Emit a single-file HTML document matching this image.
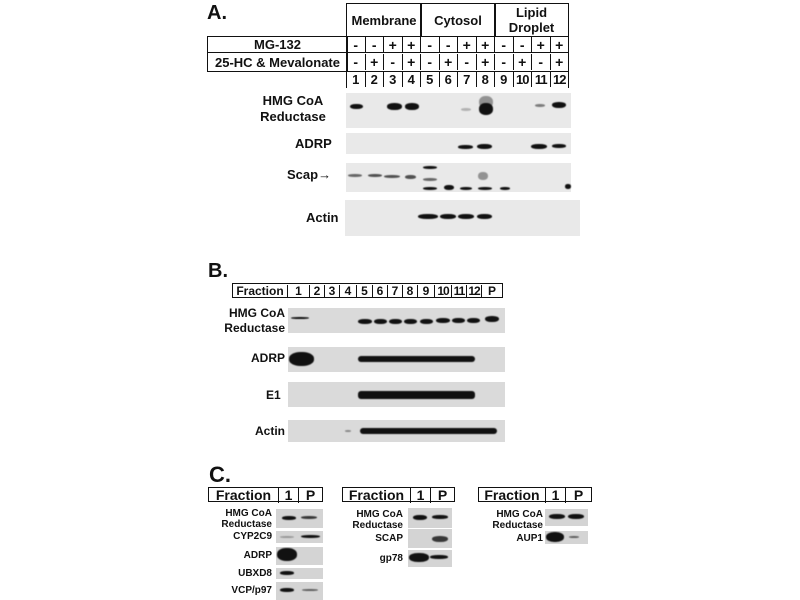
<!DOCTYPE html>
<html><head><style>
body{margin:0;width:800px;height:600px;background:#fff;position:relative;overflow:hidden;font-family:"Liberation Sans",Arial,sans-serif;font-weight:bold;color:#111}
div{position:absolute;box-sizing:border-box}
span{box-sizing:border-box}
.t{white-space:nowrap}
.c{border:1.5px solid #111;display:flex;align-items:center;justify-content:center;font-size:13px}
.s{background:#e9e9e9}
.sb{background:#dadada}
.sc{background:#d4d4d4}
.b{background:#111;border-radius:45%;filter:blur(0.6px)}
.l{text-align:right;font-size:12px;line-height:14px}
</style></head><body>
<!-- Panel A -->
<div class="t" style="left:207px;top:2px;font-size:20px">A.</div>
<div class="c" style="left:346px;top:3px;width:76px;height:34px">Membrane</div>
<div class="c" style="left:420px;top:3px;width:76px;height:34px">Cytosol</div>
<div class="c" style="left:494px;top:3px;width:75px;height:34px;line-height:15px;text-align:center">Lipid<br>Droplet</div>
<div class="c" style="left:207px;top:36px;width:141px;height:17px">MG-132</div>
<div class="c" style="left:207px;top:52px;width:141px;height:20px">25-HC &amp; Mevalonate</div>
<div style="left:346px;top:36px;width:223px;height:17px;border:1.5px solid #111;display:flex;font-size:14px">
<span style="flex:1;text-align:center;border-right:1.5px solid #111">-</span><span style="flex:1;text-align:center;border-right:1.5px solid #111">-</span><span style="flex:1;text-align:center;border-right:1.5px solid #111">+</span><span style="flex:1;text-align:center;border-right:1.5px solid #111">+</span><span style="flex:1;text-align:center;border-right:1.5px solid #111">-</span><span style="flex:1;text-align:center;border-right:1.5px solid #111">-</span><span style="flex:1;text-align:center;border-right:1.5px solid #111">+</span><span style="flex:1;text-align:center;border-right:1.5px solid #111">+</span><span style="flex:1;text-align:center;border-right:1.5px solid #111">-</span><span style="flex:1;text-align:center;border-right:1.5px solid #111">-</span><span style="flex:1;text-align:center;border-right:1.5px solid #111">+</span><span style="flex:1;text-align:center">+</span></div>
<div style="left:346px;top:52px;width:223px;height:20px;border:1.5px solid #111;display:flex;font-size:14px;align-items:center">
<span style="flex:1;text-align:center;border-right:1.5px solid #111">-</span><span style="flex:1;text-align:center;border-right:1.5px solid #111">+</span><span style="flex:1;text-align:center;border-right:1.5px solid #111">-</span><span style="flex:1;text-align:center;border-right:1.5px solid #111">+</span><span style="flex:1;text-align:center;border-right:1.5px solid #111">-</span><span style="flex:1;text-align:center;border-right:1.5px solid #111">+</span><span style="flex:1;text-align:center;border-right:1.5px solid #111">-</span><span style="flex:1;text-align:center;border-right:1.5px solid #111">+</span><span style="flex:1;text-align:center;border-right:1.5px solid #111">-</span><span style="flex:1;text-align:center;border-right:1.5px solid #111">+</span><span style="flex:1;text-align:center;border-right:1.5px solid #111">-</span><span style="flex:1;text-align:center">+</span></div>
<div style="left:346px;top:71px;width:223px;height:17px;border-left:1.5px solid #111;border-right:1.5px solid #111;display:flex;font-size:13px;align-items:center">
<span style="flex:1;text-align:center;border-right:1.5px solid #111">1</span><span style="flex:1;text-align:center;border-right:1.5px solid #111">2</span><span style="flex:1;text-align:center;border-right:1.5px solid #111">3</span><span style="flex:1;text-align:center;border-right:1.5px solid #111">4</span><span style="flex:1;text-align:center;border-right:1.5px solid #111">5</span><span style="flex:1;text-align:center;border-right:1.5px solid #111">6</span><span style="flex:1;text-align:center;border-right:1.5px solid #111">7</span><span style="flex:1;text-align:center;border-right:1.5px solid #111">8</span><span style="flex:1;text-align:center;border-right:1.5px solid #111">9</span><span style="flex:1;text-align:center;border-right:1.5px solid #111;letter-spacing:-1px">10</span><span style="flex:1;text-align:center;border-right:1.5px solid #111;letter-spacing:-1px">11</span><span style="flex:1;text-align:center;letter-spacing:-1px">12</span></div>

<div class="l t" style="left:250px;top:93px;width:86px;font-size:13px;line-height:16px;text-align:center">HMG CoA<br>Reductase</div>
<div class="s" style="left:346px;top:93px;width:225px;height:35px"></div>
<div class="b" style="left:350px;top:104px;width:13px;height:5px"></div>
<div class="b" style="left:387px;top:103px;width:15px;height:7px"></div>
<div class="b" style="left:405px;top:103px;width:14px;height:7px"></div>
<div class="b" style="left:461px;top:108px;width:10px;height:3px;opacity:.25"></div>
<div class="b" style="left:479px;top:96px;width:14px;height:12px;opacity:.4"></div>
<div class="b" style="left:479px;top:103px;width:14px;height:12px"></div>
<div class="b" style="left:535px;top:104px;width:10px;height:3px;opacity:.5"></div>
<div class="b" style="left:552px;top:102px;width:14px;height:6px"></div>

<div class="t" style="left:295px;top:136px;font-size:13px">ADRP</div>
<div class="s" style="left:346px;top:133px;width:225px;height:21px"></div>
<div class="b" style="left:458px;top:145px;width:15px;height:4px"></div>
<div class="b" style="left:477px;top:144px;width:15px;height:5px"></div>
<div class="b" style="left:531px;top:144px;width:16px;height:5px"></div>
<div class="b" style="left:552px;top:144px;width:14px;height:4px"></div>

<div class="t" style="left:287px;top:167px;font-size:13px">Scap→</div>
<div class="s" style="left:346px;top:163px;width:225px;height:29px"></div>
<div class="b" style="left:348px;top:174px;width:14px;height:3px;opacity:.6"></div>
<div class="b" style="left:368px;top:174px;width:14px;height:3px;opacity:.7"></div>
<div class="b" style="left:384px;top:175px;width:16px;height:3px;opacity:.7"></div>
<div class="b" style="left:405px;top:175px;width:11px;height:4px;opacity:.7"></div>
<div class="b" style="left:423px;top:166px;width:14px;height:3px"></div>
<div class="b" style="left:423px;top:178px;width:14px;height:3px;opacity:.6"></div>
<div class="b" style="left:423px;top:187px;width:14px;height:3px"></div>
<div class="b" style="left:444px;top:185px;width:10px;height:5px"></div>
<div class="b" style="left:460px;top:187px;width:12px;height:3px"></div>
<div class="b" style="left:478px;top:187px;width:14px;height:3px"></div>
<div class="b" style="left:478px;top:172px;width:10px;height:8px;opacity:.4"></div>
<div class="b" style="left:500px;top:187px;width:10px;height:3px"></div>
<div class="b" style="left:565px;top:184px;width:6px;height:5px"></div>

<div class="t" style="left:306px;top:210px;font-size:13px">Actin</div>
<div class="s" style="left:345px;top:200px;width:235px;height:36px"></div>
<div class="b" style="left:418px;top:214px;width:20px;height:5px"></div>
<div class="b" style="left:440px;top:214px;width:16px;height:5px"></div>
<div class="b" style="left:458px;top:214px;width:16px;height:5px"></div>
<div class="b" style="left:477px;top:214px;width:15px;height:5px"></div>

<!-- Panel B -->
<div class="t" style="left:208px;top:260px;font-size:20px">B.</div>
<div style="left:232px;top:283px;width:271px;height:15px;border:1.5px solid #111;display:flex;font-size:12px;align-items:center;line-height:12px">
<span style="width:55px;text-align:center;border-right:1.5px solid #111">Fraction</span><span style="width:22px;text-align:center;border-right:1.5px solid #111">1</span><span style="width:15px;text-align:center;border-right:1.5px solid #111">2</span><span style="width:15px;text-align:center;border-right:1.5px solid #111">3</span><span style="width:17px;text-align:center;border-right:1.5px solid #111">4</span><span style="width:16px;text-align:center;border-right:1.5px solid #111">5</span><span style="width:15px;text-align:center;border-right:1.5px solid #111">6</span><span style="width:15px;text-align:center;border-right:1.5px solid #111">7</span><span style="width:15px;text-align:center;border-right:1.5px solid #111">8</span><span style="width:17px;text-align:center;border-right:1.5px solid #111">9</span><span style="width:17px;text-align:center;border-right:1.5px solid #111;letter-spacing:-1px">10</span><span style="width:15px;text-align:center;border-right:1.5px solid #111;letter-spacing:-1px">11</span><span style="width:15px;text-align:center;border-right:1.5px solid #111;letter-spacing:-1px">12</span><span style="flex:1;text-align:center">P</span></div>
<div class="l t" style="left:215px;top:306px;width:70px;font-size:12px;line-height:15px">HMG CoA<br>Reductase</div>
<div class="sb" style="left:288px;top:308px;width:217px;height:25px"></div>
<div class="b" style="left:291px;top:317px;width:18px;height:2px"></div>
<div class="b" style="left:358px;top:319px;width:14px;height:5px"></div><div class="b" style="left:374px;top:319px;width:13px;height:5px"></div><div class="b" style="left:389px;top:319px;width:13px;height:5px"></div><div class="b" style="left:404px;top:319px;width:13px;height:5px"></div><div class="b" style="left:420px;top:319px;width:13px;height:5px"></div><div class="b" style="left:436px;top:318px;width:14px;height:5px"></div><div class="b" style="left:452px;top:318px;width:13px;height:5px"></div><div class="b" style="left:467px;top:318px;width:13px;height:5px"></div><div class="b" style="left:485px;top:316px;width:14px;height:6px"></div>
<div class="t" style="left:251px;top:351px;font-size:12px">ADRP</div>
<div class="sb" style="left:288px;top:347px;width:217px;height:25px"></div>
<div class="b" style="left:289px;top:352px;width:25px;height:14px"></div>
<div class="b" style="left:358px;top:356px;width:117px;height:6px;border-radius:3px"></div>
<div class="t" style="left:266px;top:388px;font-size:12px">E1</div>
<div class="sb" style="left:288px;top:382px;width:217px;height:25px"></div>
<div class="b" style="left:358px;top:391px;width:117px;height:8px;border-radius:3px"></div>
<div class="t" style="left:255px;top:424px;font-size:12px">Actin</div>
<div class="sb" style="left:288px;top:420px;width:217px;height:22px"></div>
<div class="b" style="left:360px;top:428px;width:137px;height:6px;border-radius:3px"></div>
<div class="b" style="left:345px;top:430px;width:6px;height:2px;opacity:.4"></div>

<!-- Panel C -->
<div class="t" style="left:209px;top:462px;font-size:22px">C.</div>
<div style="left:208px;top:487px;width:115px;height:15px;border:1.5px solid #111;display:flex;font-size:14px;align-items:center"><span style="width:70px;text-align:center;border-right:1.5px solid #111">Fraction</span><span style="width:20px;text-align:center;border-right:1.5px solid #111">1</span><span style="flex:1;text-align:center">P</span></div>
<div style="left:342px;top:487px;width:113px;height:15px;border:1.5px solid #111;display:flex;font-size:14px;align-items:center"><span style="width:68px;text-align:center;border-right:1.5px solid #111">Fraction</span><span style="width:20px;text-align:center;border-right:1.5px solid #111">1</span><span style="flex:1;text-align:center">P</span></div>
<div style="left:478px;top:487px;width:114px;height:15px;border:1.5px solid #111;display:flex;font-size:14px;align-items:center"><span style="width:67px;text-align:center;border-right:1.5px solid #111">Fraction</span><span style="width:20px;text-align:center;border-right:1.5px solid #111">1</span><span style="flex:1;text-align:center">P</span></div>

<div class="l t" style="left:200px;top:508px;width:72px;font-size:10px;line-height:11px">HMG CoA<br>Reductase</div>
<div class="sc" style="left:276px;top:509px;width:47px;height:19px"></div>
<div class="b" style="left:282px;top:516px;width:14px;height:4px"></div><div class="b" style="left:301px;top:516px;width:16px;height:3px;opacity:.8"></div>
<div class="l t" style="left:200px;top:530px;width:72px;font-size:10px">CYP2C9</div>
<div class="sc" style="left:276px;top:531px;width:47px;height:12px"></div>
<div class="b" style="left:280px;top:536px;width:14px;height:2px;opacity:.3"></div><div class="b" style="left:301px;top:535px;width:19px;height:3px"></div>
<div class="l t" style="left:200px;top:549px;width:72px;font-size:10px">ADRP</div>
<div class="sc" style="left:276px;top:547px;width:47px;height:18px"></div>
<div class="b" style="left:277px;top:548px;width:20px;height:13px"></div>
<div class="l t" style="left:200px;top:567px;width:72px;font-size:10px">UBXD8</div>
<div class="sc" style="left:276px;top:568px;width:47px;height:11px"></div>
<div class="b" style="left:280px;top:571px;width:14px;height:4px"></div>
<div class="l t" style="left:200px;top:584px;width:72px;font-size:10px">VCP/p97</div>
<div class="sc" style="left:276px;top:582px;width:47px;height:18px"></div>
<div class="b" style="left:280px;top:588px;width:14px;height:4px"></div><div class="b" style="left:302px;top:589px;width:16px;height:2px;opacity:.6"></div>

<div class="l t" style="left:330px;top:509px;width:73px;font-size:10px;line-height:11px">HMG CoA<br>Reductase</div>
<div class="sc" style="left:408px;top:508px;width:44px;height:20px"></div>
<div class="b" style="left:413px;top:515px;width:14px;height:5px"></div><div class="b" style="left:432px;top:515px;width:16px;height:4px"></div>
<div class="l t" style="left:330px;top:532px;width:73px;font-size:10px">SCAP</div>
<div class="sc" style="left:408px;top:529px;width:44px;height:19px"></div>
<div class="b" style="left:432px;top:536px;width:16px;height:6px;opacity:.8"></div>
<div class="l t" style="left:330px;top:552px;width:73px;font-size:10px">gp78</div>
<div class="sc" style="left:408px;top:550px;width:44px;height:17px"></div>
<div class="b" style="left:409px;top:553px;width:20px;height:9px"></div><div class="b" style="left:430px;top:555px;width:18px;height:4px"></div>

<div class="l t" style="left:470px;top:509px;width:73px;font-size:10px;line-height:11px">HMG CoA<br>Reductase</div>
<div class="sc" style="left:545px;top:509px;width:43px;height:17px"></div>
<div class="b" style="left:549px;top:514px;width:16px;height:5px"></div><div class="b" style="left:568px;top:514px;width:16px;height:5px"></div>
<div class="l t" style="left:470px;top:532px;width:73px;font-size:10px">AUP1</div>
<div class="sc" style="left:545px;top:531px;width:43px;height:13px"></div>
<div class="b" style="left:546px;top:532px;width:18px;height:10px"></div><div class="b" style="left:569px;top:536px;width:10px;height:2px;opacity:.6"></div>
</body></html>
